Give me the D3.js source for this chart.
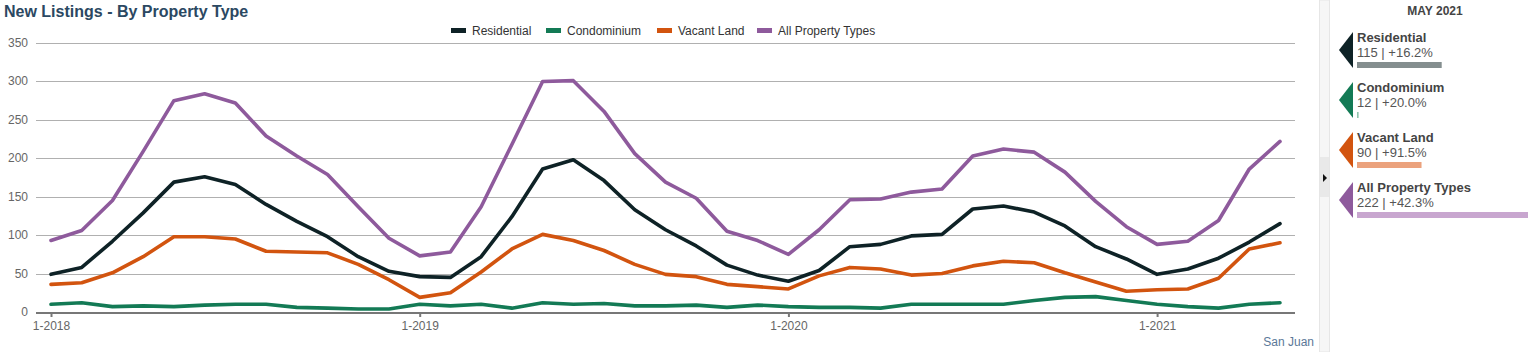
<!DOCTYPE html>
<html><head><meta charset="utf-8">
<script src="https://cdn.jsdelivr.net/npm/d3@7"></script>
<style>
body{margin:0;background:#fff;font-family:"Liberation Sans",Arial,sans-serif;}
svg{display:block;}
</style></head>
<body><svg id="c" width="1536" height="352"></svg>
<script>
const months = [];
for (let y = 2018; y <= 2021; y++) for (let m = 1; m <= 12; m++) if (!(y === 2021 && m > 5)) months.push(m + "-" + y);

const residential = [49,58,92,129,169,176,166,140,118,98,72,53, 46,45,72,124,186,198,171,133,107,86,61,48, 40,54,85,88,99,101,134,138,130,112,85,69, 49,56,70,91,115];
const condominium = [10,12,7,8,7,9,10,10,6,5,4,4, 10,8,10,5,12,10,11,8,8,9,6,9, 7,6,6,5,10,10,10,10,15,19,20,15, 10,7,5,10,12];
const vacantLand  = [36,38,51,72,98,98,95,79,78,77,62,42, 19,25,52,82,101,93,80,62,49,46,36,33, 30,47,58,56,48,50,60,66,64,51,39,27, 29,30,44,82,90];
const allTypes    = [93,106,145,209,275,284,272,229,203,179,137,96, 73,78,137,218,300,301,261,206,169,148,105,93, 75,107,146,147,156,160,203,212,208,182,144,111, 88,92,119,186,222];

const seriesNames = ["Residential","Condominium","Vacant Land","All Property Types"];
const seriesColors = ["#0e2226","#137a55","#d2540f","#8e5a9c"];
const barColors = ["#848e8f","#8fc4ad","#eba27d","#c8a6cf"];
const yTicks = [0,50,100,150,200,250,300,350];
const summaryMonth = "MAY 2021";
const summaryValues = [115,12,90,222];
const summaryChanges = ["+16.2%","+20.0%","+91.5%","+42.3%"];
const footerLabel = "San Juan";

const svg = d3.select("#c");
const x = d3.scalePoint().domain(months).range([51, 1280]);
const y = d3.scaleLinear().domain([0,350]).range([312,43]);

// title
svg.append("text").attr("x",4).attr("y",17).text("New Listings - By Property Type")
  .attr("font-size",16).attr("font-weight","bold").attr("fill","#2b4862");

// gridlines
svg.append("g").selectAll("line").data(yTicks.filter(d=>d>0)).join("line")
  .attr("x1",36).attr("x2",1295).attr("y1",d=>Math.round(y(d))+0.5).attr("y2",d=>Math.round(y(d))+0.5)
  .attr("stroke","#b0b0b0").attr("stroke-width",1);
// y labels
svg.append("g").selectAll("text").data(yTicks).join("text")
  .attr("x",28).attr("y",d=>y(d)+4).attr("text-anchor","end").text(d=>d)
  .attr("font-size",12).attr("fill","#666");

// x axis
const xAxis = d3.axisBottom(x).tickValues(months.filter(m=>m.startsWith("1-"))).tickSize(5).tickPadding(4);
const gx = svg.append("g").attr("transform","translate(0,312)").call(xAxis);
gx.select(".domain").remove();
gx.selectAll(".tick line").attr("stroke","#777").attr("stroke-width",2);
gx.selectAll(".tick text").attr("font-size",12).attr("fill","#666").attr("font-family","Liberation Sans, Arial, sans-serif");
svg.append("line").attr("x1",36).attr("x2",1295).attr("y1",313).attr("y2",313).attr("stroke","#777").attr("stroke-width",2);

// lines
const data = [residential, condominium, vacantLand, allTypes];
const line = d3.line().x((d,i)=>x(months[i])).y(d=>y(d));
const drawOrder = [1,2,0,3];
drawOrder.forEach(k=>{
  svg.append("path").datum(data[k]).attr("d",line).attr("fill","none")
    .attr("stroke",seriesColors[k]).attr("stroke-width",3.6).attr("stroke-linejoin","round").attr("stroke-linecap","round");
});

// legend
const legendX = [451,546,657,757];
const lg = svg.append("g");
seriesNames.forEach((n,i)=>{
  lg.append("rect").attr("x",legendX[i]).attr("y",28).attr("width",15).attr("height",5).attr("fill",seriesColors[i]);
  lg.append("text").attr("x",legendX[i]+21).attr("y",35).text(n).attr("font-size",12).attr("fill","#333");
});

// footer
svg.append("text").attr("x",1314).attr("y",346).attr("text-anchor","end").text(footerLabel)
  .attr("font-size",12).attr("fill","#5b7898");

// side strip
svg.append("rect").attr("x",1319.5).attr("y",0).attr("width",10).attr("height",352).attr("fill","#f6f6f6").attr("stroke","#e6e6e6");
svg.append("rect").attr("x",1320).attr("y",157).attr("width",9).attr("height",40).attr("fill","#e9e9e9");
svg.append("path").attr("d","M1323,174 L1327,178 L1323,182 Z").attr("fill","#111");

// summary panel
svg.append("text").attr("x",1435).attr("y",15).attr("text-anchor","middle").text(summaryMonth)
  .attr("font-size",12).attr("font-weight","bold").attr("fill","#444");
const bw = d3.scaleLinear().domain([10,222]).range([0,171]).clamp(true);
seriesNames.forEach((n,i)=>{
  const top = 32 + i*50;
  svg.append("path").attr("d",`M1339,${top+18} L1353,${top} L1353,${top+36} Z`).attr("fill",seriesColors[i]);
  svg.append("text").attr("x",1357).attr("y",top+10).text(n).attr("font-size",13).attr("font-weight","bold").attr("fill","#444");
  svg.append("text").attr("x",1357).attr("y",top+25).text(summaryValues[i]+" | "+summaryChanges[i]).attr("font-size",13).attr("fill","#555");
  svg.append("rect").attr("x",1357).attr("y",top+30).attr("width",Math.max(1,bw(summaryValues[i]))).attr("height",6).attr("fill",barColors[i]);
});
</script></body></html>
